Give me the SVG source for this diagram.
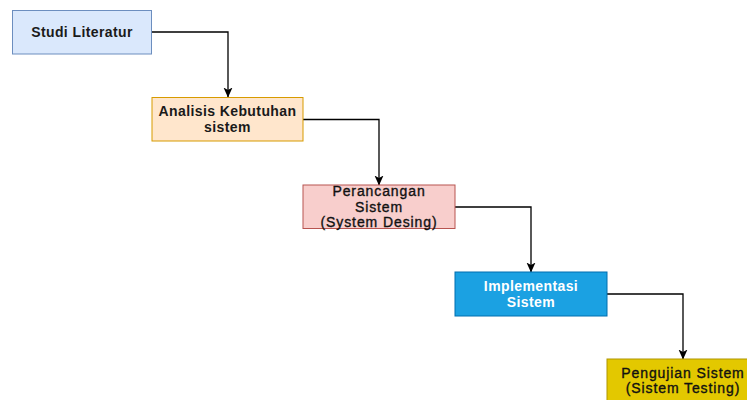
<svg xmlns="http://www.w3.org/2000/svg" width="747" height="400" viewBox="0 0 747 400">
<defs>
<style>
.t{font-family:"Liberation Sans",Arial,sans-serif;font-size:14px;font-weight:bold;letter-spacing:0.4px;text-anchor:middle;fill:#1a1a1a}
.r{font-weight:normal;letter-spacing:0.9px;fill:#111;stroke:#111;stroke-width:0.35px}
.w{fill:#ffffff}
.c{fill:none;stroke:#000;stroke-width:1.3}
</style>
<marker id="arr" viewBox="0 0 10 10" refX="9.5" refY="5" markerWidth="10" markerHeight="10" markerUnits="userSpaceOnUse" orient="auto">
<path d="M0,0.5 L10,5 L0,9.5 L2.5,5 Z" fill="#000"/>
</marker>
</defs>
<rect width="747" height="400" fill="#ffffff"/>
<g id="connectors">
<path class="c" d="M152,32 H228 V97" marker-end="url(#arr)"/>
<path class="c" d="M303,119.5 H379 V185" marker-end="url(#arr)"/>
<path class="c" d="M455,207 H531 V272" marker-end="url(#arr)"/>
<path class="c" d="M607,294 H683 V359" marker-end="url(#arr)"/>
</g>
<g id="n1">
<rect x="12.5" y="10.5" width="139" height="43.5" fill="#dae8fc" stroke="#6c8ebf"/>
<text class="t" x="82" y="37">Studi Literatur</text>
</g>
<g id="n2">
<rect x="152" y="97.5" width="151" height="43.5" fill="#ffe6cc" stroke="#d79b00"/>
<text class="t" x="227.5" y="116">Analisis Kebutuhan</text>
<text class="t" x="227.5" y="132">sistem</text>
</g>
<g id="n3">
<rect x="303" y="185" width="152" height="43.5" fill="#f8cecc" stroke="#b85450"/>
<text class="t r" x="379" y="196">Perancangan</text>
<text class="t r" x="379" y="211.5">Sistem</text>
<text class="t r" x="379" y="227">(System Desing)</text>
</g>
<g id="n4">
<rect x="455" y="272" width="152" height="44" fill="#1ba1e2" stroke="#006eaf"/>
<text class="t w" x="531" y="291">Implementasi</text>
<text class="t w" x="531" y="307">Sistem</text>
</g>
<g id="n5">
<rect x="607" y="359" width="152" height="44" fill="#e3c800" stroke="#b09500"/>
<text class="t r" x="683" y="377.5">Pengujian Sistem</text>
<text class="t r" x="683" y="393">(Sistem Testing)</text>
</g>
</svg>
